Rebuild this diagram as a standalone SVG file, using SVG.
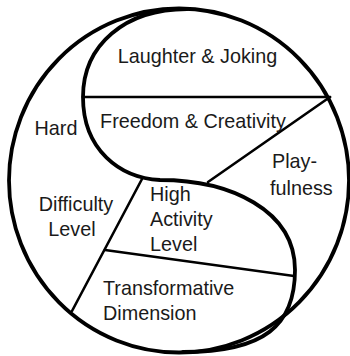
<svg xmlns="http://www.w3.org/2000/svg" width="350" height="356" viewBox="0 0 350 356">
<style>
.c{fill:none;stroke:#000;stroke-width:3.8;stroke-linecap:round;stroke-linejoin:round}
.l{fill:none;stroke:#000;stroke-width:2.6;stroke-linecap:round}
text{font-family:"Liberation Sans",Arial,sans-serif;font-size:19.8px;fill:#1a1a1a}
</style>
<rect width="350" height="356" fill="#fff"/>
<g id="shapes">
<ellipse class="c" cx="179" cy="180.5" rx="170" ry="172"/>
<path class="c" d="M187,9 C125,9 83,45 83,97 C83,150 120,178 160,180 C230,180 295,210 295,270 C295,325 265,352 183,352"/>
</g>
<g id="connectors">
<line class="l" x1="83" y1="97" x2="330" y2="97"/>
<line class="l" x1="330" y1="97" x2="208" y2="182"/>
<line class="l" x1="142" y1="179" x2="72" y2="311"/>
<line class="l" x1="105" y1="250" x2="294" y2="276"/>
</g>
<g id="laughter"><text x="197.5" y="63" text-anchor="middle">Laughter &amp; Joking</text></g>
<g id="freedom"><text x="193" y="128" text-anchor="middle">Freedom &amp; Creativity</text></g>
<g id="hard"><text x="56" y="135" text-anchor="middle">Hard</text></g>
<g id="difficulty"><text x="76" y="211" text-anchor="middle">Difficulty</text><text x="72" y="236" text-anchor="middle">Level</text></g>
<g id="activity"><text x="150" y="201">High</text><text x="150" y="226">Activity</text><text x="150" y="251">Level</text></g>
<g id="playfulness"><text x="272" y="168">Play-</text><text x="270" y="195">fulness</text></g>
<g id="transformative"><text x="103" y="295">Transformative</text><text x="103" y="320">Dimension</text></g>
</svg>
